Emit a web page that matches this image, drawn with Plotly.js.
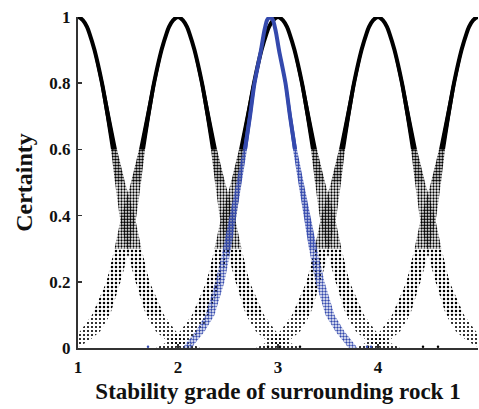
<!DOCTYPE html>
<html>
<head>
<meta charset="utf-8">
<script src="https://cdn.plot.ly/plotly-3.0.1.min.js"></script>
<style>
html,body{margin:0;padding:0;background:#fff;}
#chart{width:479px;height:409px;}
</style>
</head>
<body>
<div id="chart"></div>
<script>
// ---- data ----
// centres (Ex) of the five standard grade clouds and of the evaluated (blue) cloud
const gradeCenters = [1, 2, 3, 4, 5];
const blueCenter = 2.92;
// certainty levels at which the cloud band was read
const levels = [1, 0.99, 0.97, 0.95, 0.9, 0.8, 0.7, 0.6, 0.5, 0.4, 0.3, 0.2, 0.1, 0.05, 0.02, 0];
// distance of the band centre from the cloud centre (x units) at each level
const blackOffset = [0, 0.05, 0.09, 0.115, 0.165, 0.24, 0.30, 0.36, 0.42, 0.49, 0.56, 0.645, 0.77, 0.88, 1.0, 1.12];
// half thickness of the band of drops at each level
const blackSpread = [0.008, 0.009, 0.01, 0.011, 0.013, 0.017, 0.022, 0.03, 0.05, 0.075, 0.075, 0.07, 0.09, 0.1, 0.1, 0.1];
const blueOffset = [0, 0.03, 0.048, 0.062, 0.09, 0.155, 0.20, 0.25, 0.31, 0.37, 0.43, 0.50, 0.60, 0.70, 0.78, 0.83];
const blueSpread = [0.007, 0.008, 0.009, 0.01, 0.011, 0.013, 0.016, 0.02, 0.028, 0.035, 0.04, 0.045, 0.045, 0.045, 0.045, 0.045];
// isolated drops lying on the x axis
const strayBlackX = [2.9, 3.02, 3.22, 3.9, 4.0, 4.45, 4.6];
const strayBlueX = [1.7, 3.89, 3.93];
const xTicks = [1, 2, 3, 4, 5];
const yTicks = [0, 0.2, 0.4, 0.6, 0.8, 1];

const BLACK = '#000000';
const BLUE = '#3449ad';

const traces = [];

function band(center, offset, spread, i0, i1, side, style) {
  const xs = [], ys = [];
  for (let i = i0; i <= i1; i++) { xs.push(center + side * (offset[i] - spread[i])); ys.push(levels[i]); }
  for (let i = i1; i >= i0; i--) { xs.push(center + side * (offset[i] + spread[i])); ys.push(levels[i]); }
  const t = {x: xs, y: ys, type: 'scatter', mode: 'lines', fill: 'toself',
             line: {width: 0, color: style.color},
             hoverinfo: 'skip', showlegend: false};
  if (style.pattern) {
    t.fillcolor = 'rgba(0,0,0,0)';
    t.fillpattern = {shape: '.', size: style.size, solidity: style.solidity,
                     fgcolor: style.color, bgcolor: 'rgba(0,0,0,0)'};
  } else {
    t.fillcolor = style.color;
  }
  traces.push(t);
}

function centreLine(center, offset, iMax, color, width) {
  const xs = [], ys = [];
  for (let i = iMax; i >= 0; i--) { xs.push(center - offset[i]); ys.push(levels[i]); }
  for (let i = 1; i <= iMax; i++) { xs.push(center + offset[i]); ys.push(levels[i]); }
  traces.push({x: xs, y: ys, type: 'scatter', mode: 'lines',
               line: {color: color, width: width, shape: 'spline', smoothing: 0.8},
               hoverinfo: 'skip', showlegend: false});
}

function cloud(center, offset, spread, color, lw, solidTo, zones) {
  [-1, 1].forEach(side => {
    band(center, offset, spread, 0, solidTo, side, {color: color});
    zones.forEach(z => band(center, offset, spread, z.from, z.to, side,
      {color: color, pattern: true, size: z.size, solidity: z.solidity}));
  });
  centreLine(center, offset, solidTo, color, lw);
}

gradeCenters.forEach(c => cloud(c, blackOffset, blackSpread, BLACK, 4, 7, [
  {from: 7, to: 8, size: 3, solidity: 0.65},
  {from: 8, to: 10, size: 3, solidity: 0.45},
  {from: 10, to: 12, size: 4, solidity: 0.3},
  {from: 12, to: 15, size: 4, solidity: 0.22}
]));
cloud(blueCenter, blueOffset, blueSpread, BLUE, 4, 7, [
  {from: 7, to: 10, size: 3, solidity: 0.75},
  {from: 10, to: 15, size: 3, solidity: 0.5}
]);

traces.push({x: strayBlackX, y: strayBlackX.map(() => 0.004), type: 'scatter', mode: 'markers',
             marker: {color: BLACK, size: 2.5}, hoverinfo: 'skip', showlegend: false});
traces.push({x: strayBlueX, y: strayBlueX.map(() => 0.004), type: 'scatter', mode: 'markers',
             marker: {color: BLUE, size: 2.5}, hoverinfo: 'skip', showlegend: false});

const tickFont = {family: 'Liberation Serif, Times New Roman, serif', size: 17, color: '#111', weight: 'bold'};
const titleFont = {family: 'Liberation Serif, Times New Roman, serif', size: 23, color: '#111', weight: 'bold'};

const layout = {
  width: 479, height: 409,
  margin: {l: 78, r: 1, t: 17, b: 61},
  paper_bgcolor: '#fff', plot_bgcolor: '#fff',
  showlegend: false,
  xaxis: {
    range: [1, 5], tickvals: xTicks, ticktext: xTicks.map(String),
    showgrid: false, zeroline: false, showline: true, linecolor: '#333', linewidth: 2,
    ticks: 'inside', ticklen: 4, tickwidth: 1.5, tickcolor: '#333',
    tickfont: tickFont, ticklabelstandoff: 3,
    title: {text: 'Stability grade of surrounding rock 1', font: titleFont, standoff: 6}
  },
  yaxis: {
    range: [0, 1], tickvals: yTicks, ticktext: yTicks.map(String),
    showgrid: false, zeroline: false, showline: true, linecolor: '#333', linewidth: 2,
    ticks: 'inside', ticklen: 4, tickwidth: 1.5, tickcolor: '#333',
    tickfont: tickFont, ticklabelstandoff: 2,
    title: {text: 'Certainty', font: {family: titleFont.family, size: 24, color: '#111', weight: 'bold'}, standoff: 10}
  }
};

Plotly.newPlot('chart', traces, layout, {displayModeBar: false, staticPlot: true});
</script>
</body>
</html>
